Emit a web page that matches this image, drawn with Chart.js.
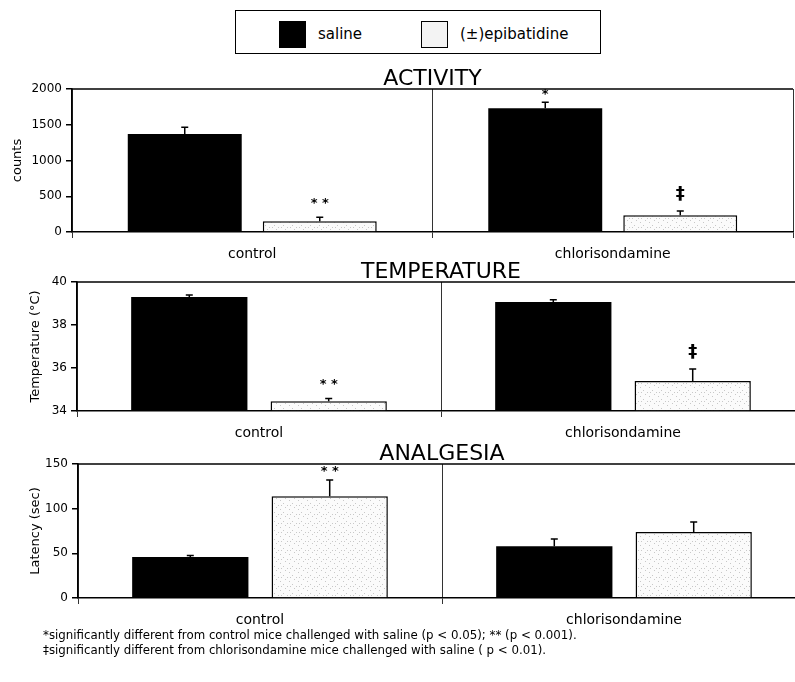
<!DOCTYPE html>
<html>
<head>
<meta charset="utf-8">
<script src="https://cdn.jsdelivr.net/npm/chart.js@4"></script>
<style>
  body { margin: 0; width: 795px; height: 682px; overflow: hidden; background: #fff; position: relative; font-family: "DejaVu Sans", sans-serif; }
  canvas { position: absolute; left: 0; }
  #legend { position: absolute; left: 235px; top: 10px; width: 364px; height: 42px; border: 1.5px solid #000; }
  .sw { position: absolute; top: 10px; width: 27px; height: 27px; }
  .lt { position: absolute; top: 14px; font-size: 15px; color: #000; }
  .note { position: absolute; left: 43px; font-family: "DejaVu Sans", sans-serif; font-size: 11.8px; color: #000; white-space: nowrap; }
</style>
</head>
<body>
<div id="legend">
  <div class="sw" style="left:43px;background:#000;"></div>
  <div class="lt" style="left:82px;">saline</div>
  <div class="sw" style="left:185px;background:#f3f3f3;border:1px solid #000;width:25px;height:25px;"></div>
  <div class="lt" style="left:224px;">(±)epibatidine</div>
</div>
<canvas id="activityChart" width="815" height="202" style="top:58px"></canvas>
<canvas id="temperatureChart" width="815" height="192" style="top:250px"></canvas>
<canvas id="analgesiaChart" width="815" height="193" style="top:435px"></canvas>
<div class="note" style="top:628px;">*significantly different from control mice challenged with saline (p &lt; 0.05); ** (p &lt; 0.001).</div>
<div class="note" style="top:643px;">‡significantly different from chlorisondamine mice challenged with saline ( p &lt; 0.01).</div>

<script>
// Groups and series
var categories = ["control", "chlorisondamine"];
var seriesNames = ["saline", "(±)epibatidine"];

// ACTIVITY (counts)
var activitySaline = [1370, 1730];
var activitySalineErr = [95, 85];
var activitySalineMarks = ["", "*"];
var activityEpi = [150, 235];
var activityEpiErr = [55, 60];
var activityEpiMarks = ["* *", "‡"];
var activityTicks = [0, 500, 1000, 1500, 2000];

// TEMPERATURE (°C)
var tempSaline = [39.3, 39.07];
var tempSalineErr = [0.1, 0.1];
var tempSalineMarks = ["", ""];
var tempEpi = [34.45, 35.4];
var tempEpiErr = [0.13, 0.55];
var tempEpiMarks = ["* *", "‡"];
var tempTicks = [34, 36, 38, 40];

// ANALGESIA (latency, sec)
var analgSaline = [46, 58];
var analgSalineErr = [1.5, 8];
var analgSalineMarks = ["", ""];
var analgEpi = [114, 74];
var analgEpiErr = [18, 11];
var analgEpiMarks = ["* *", ""];
var analgTicks = [0, 50, 100, 150];

// light speckled fill for the epibatidine bars
function makeSpeckle() {
  var c = document.createElement("canvas");
  c.width = 9; c.height = 9;
  var g = c.getContext("2d");
  g.fillStyle = "#fbfbfb";
  g.fillRect(0, 0, 9, 9);
  g.fillStyle = "#c8c8c8";
  g.fillRect(1, 2, 1, 1);
  g.fillRect(6, 0, 1, 1);
  g.fillRect(4, 5, 1, 1);
  g.fillRect(8, 7, 1, 1);
  g.fillRect(2, 7, 1, 1);
  return g.createPattern(c, "repeat");
}

// error bars (upper half only) and significance marks
var errorBarPlugin = {
  id: "errorBars",
  afterDatasetsDraw: function(chart) {
    var ctx = chart.ctx;
    var yScale = chart.scales.y;
    var areaTop = chart.chartArea.top;
    chart.data.datasets.forEach(function(ds, i) {
      var meta = chart.getDatasetMeta(i);
      meta.data.forEach(function(bar, j) {
        var top = yScale.getPixelForValue(ds.data[j] + ds.errors[j]);
        ctx.save();
        ctx.strokeStyle = "#000";
        ctx.lineWidth = 1.5;
        ctx.beginPath();
        ctx.moveTo(bar.x, bar.y);
        ctx.lineTo(bar.x, top);
        ctx.moveTo(bar.x - 3.5, top);
        ctx.lineTo(bar.x + 3.5, top);
        ctx.stroke();
        var mark = ds.marks[j];
        if (mark) {
          ctx.fillStyle = "#000";
          ctx.textAlign = "center";
          ctx.textBaseline = "middle";
          if (mark === "‡") {
            ctx.font = "bold 18px 'DejaVu Sans'";
            ctx.fillText(mark, bar.x, top - 17);
          } else if (mark === "*") {
            ctx.font = "bold 13px 'DejaVu Sans'";
            ctx.fillText(mark, bar.x, top - 8);
          } else {
            // keep the stars inside the frame when the bar is tall
            ctx.font = "bold 13px 'DejaVu Sans'";
            ctx.fillText(mark, bar.x, Math.max(top - 14, areaTop + 8));
          }
        }
        ctx.restore();
      });
    });
  }
};

// panel title sitting on the top frame line, plus the frame line itself
var panelFramePlugin = {
  id: "panelFrame",
  afterDraw: function(chart, args, opts) {
    var a = chart.chartArea;
    var ctx = chart.ctx;
    ctx.save();
    ctx.strokeStyle = "#000";
    ctx.lineWidth = 1.5;
    ctx.beginPath();
    ctx.moveTo(a.left, a.top);
    ctx.lineTo(a.right, a.top);
    ctx.stroke();
    ctx.fillStyle = "#000";
    ctx.font = "22px 'DejaVu Sans'";
    ctx.textAlign = "center";
    ctx.textBaseline = "alphabetic";
    ctx.fillText(opts.text, (a.left + a.right) / 2, a.top - 4);
    ctx.restore();
  }
};

function drawPanel(p) {
  var canvas = document.getElementById(p.id);
  var ctx = canvas.getContext("2d");
  var speckle = makeSpeckle();
  var padLeft = p.titleLeft;

  return new Chart(ctx, {
    type: "bar",
    data: {
      labels: categories,
      datasets: [{
        label: seriesNames[0],
        data: p.saline,
        errors: p.salineErr,
        marks: p.salineMarks,
        base: p.ticks[0],
        backgroundColor: "#000",
        borderColor: "#000",
        borderWidth: 0,
        categoryPercentage: p.catPct,
        barPercentage: p.barPct
      }, {
        label: seriesNames[1],
        data: p.epi,
        errors: p.epiErr,
        marks: p.epiMarks,
        base: p.ticks[0],
        backgroundColor: speckle,
        borderColor: "#000",
        borderWidth: 1.5,
        categoryPercentage: p.catPct,
        barPercentage: p.barPct
      }]
    },
    options: {
      responsive: false,
      animation: false,
      layout: {
        padding: { left: padLeft, top: p.area.top - p.canvasTop, right: canvas.width - p.area.right, bottom: 0 }
      },
      plugins: {
        legend: { display: false },
        tooltip: { enabled: false },
        panelFrame: { text: p.title }
      },
      scales: {
        x: {
          offset: true,
          grid: { display: true, offset: true, drawOnChartArea: true, drawTicks: true, tickLength: 6, color: "#333", lineWidth: 1 },
          border: { display: true, color: "#000", width: 1.5 },
          ticks: { color: "#000", padding: 8, font: { family: "DejaVu Sans", size: 14 } },
          afterFit: function(s) { s.height = p.canvasTop + canvas.height - p.area.bottom; }
        },
        y: {
          min: p.ticks[0],
          max: p.ticks[p.ticks.length - 1],
          afterBuildTicks: function(s) { s.ticks = p.ticks.map(function(v) { return { value: v }; }); },
          grid: { drawOnChartArea: false, drawTicks: true, tickLength: 6, color: "#000", lineWidth: 1.5 },
          border: { display: true, color: "#000", width: 1.5 },
          ticks: {
            color: "#000", padding: 4, font: { family: "DejaVu Sans", size: 12 },
            callback: function(v) { return String(v); }
          },
          title: { display: true, text: p.yTitle, color: "#000", padding: { top: 0, bottom: 0 }, font: { family: "DejaVu Sans", size: 13 } },
          afterFit: function(s) { s.width = p.area.left - padLeft; }
        }
      }
    },
    plugins: [errorBarPlugin, panelFramePlugin]
  });
}

window.onload = function() {
  drawPanel({
    id: "activityChart", title: "ACTIVITY", yTitle: "counts",
    canvasTop: 58, area: { left: 72, right: 793, top: 89, bottom: 232 }, titleLeft: 10,
    catPct: 0.749, barPct: 0.844,
    saline: activitySaline, salineErr: activitySalineErr, salineMarks: activitySalineMarks,
    epi: activityEpi, epiErr: activityEpiErr, epiMarks: activityEpiMarks, ticks: activityTicks
  });
  drawPanel({
    id: "temperatureChart", title: "TEMPERATURE", yTitle: "Temperature (°C)",
    canvasTop: 250, area: { left: 77, right: 805, top: 282, bottom: 411 }, titleLeft: 28,
    catPct: 0.766, barPct: 0.834,
    saline: tempSaline, salineErr: tempSalineErr, salineMarks: tempSalineMarks,
    epi: tempEpi, epiErr: tempEpiErr, epiMarks: tempEpiMarks, ticks: tempTicks
  });
  drawPanel({
    id: "analgesiaChart", title: "ANALGESIA", yTitle: "Latency (sec)",
    canvasTop: 435, area: { left: 78, right: 806, top: 464, bottom: 598 }, titleLeft: 28,
    catPct: 0.766, barPct: 0.834,
    saline: analgSaline, salineErr: analgSalineErr, salineMarks: analgSalineMarks,
    epi: analgEpi, epiErr: analgEpiErr, epiMarks: analgEpiMarks, ticks: analgTicks
  });
};
</script>
</body>
</html>
